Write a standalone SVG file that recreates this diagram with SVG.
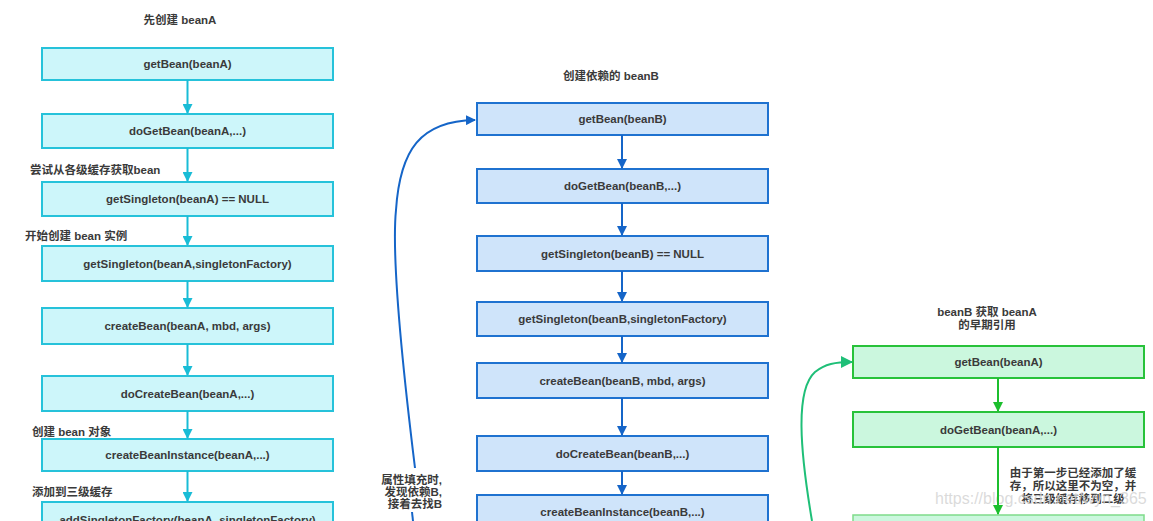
<svg xmlns="http://www.w3.org/2000/svg" width="1153" height="521" viewBox="0 0 1153 521">
<style>
text{font-family:"Liberation Sans","Noto Sans CJK SC",sans-serif;font-weight:bold;fill:#3a3a3a;}
.n{font-size:11.5px;text-anchor:middle;}
.lbl{font-size:11.5px;}
.a rect{fill:#cdf6fa;stroke:#26c2da;stroke-width:2;}
.b rect{fill:#cfe4fa;stroke:#1f72d0;stroke-width:2;}
.c rect{fill:#cbf7de;stroke:#28c23a;stroke-width:2;}
.ca{stroke:#19bcd6;stroke-width:2;fill:none;}
.cb{stroke:#1565c8;stroke-width:2;fill:none;}
.cc{stroke:#1cbf2e;stroke-width:2;fill:none;}
.cg{stroke:#1fbf78;stroke-width:2;fill:none;}
</style>
<defs>
<marker id="ma" markerWidth="10" markerHeight="10" refX="9" refY="5" orient="auto" markerUnits="userSpaceOnUse"><path d="M0,0 L10,5 L0,10 z" fill="#19bcd6"/></marker>
<marker id="mb" markerWidth="10" markerHeight="10" refX="9" refY="5" orient="auto" markerUnits="userSpaceOnUse"><path d="M0,0 L10,5 L0,10 z" fill="#1565c8"/></marker>
<marker id="mc" markerWidth="10" markerHeight="10" refX="9" refY="5" orient="auto" markerUnits="userSpaceOnUse"><path d="M0,0 L10,5 L0,10 z" fill="#1cbf2e"/></marker>
<marker id="mg" markerWidth="12" markerHeight="12" refX="11" refY="6" orient="auto" markerUnits="userSpaceOnUse"><path d="M0,0 L12,6 L0,12 z" fill="#1fbf78"/></marker>
</defs>
<rect width="1153" height="521" fill="#ffffff"/>

<!-- Titles and labels -->
<text class="n" x="180" y="24">先创建 beanA</text>
<text class="lbl" x="30" y="174">尝试从各级缓存获取bean</text>
<text class="lbl" x="25" y="240">开始创建 bean 实例</text>
<text class="lbl" x="32" y="436">创建 bean 对象</text>
<text class="lbl" x="32" y="496">添加到三级缓存</text>
<text class="n" x="611" y="80">创建依赖的 beanB</text>
<text class="lbl" text-anchor="end" x="442" y="484">属性填充时,</text>
<text class="lbl" text-anchor="end" x="442" y="496">发现依赖B,</text>
<text class="lbl" text-anchor="end" x="442" y="508">接着去找B</text>
<text class="n" x="987" y="316">beanB 获取 beanA</text>
<text class="n" x="987" y="329">的早期引用</text>
<text class="n" x="1073" y="477">由于第一步已经添加了缓</text>
<text class="n" x="1073" y="490">存，所以这里不为空，并</text>
<text class="n" x="1073" y="503">将三级缓存移到二级</text>

<!-- Column A nodes -->
<g id="a1" class="a"><rect x="42" y="48" width="291" height="32"/><text class="n" x="187.5" y="68">getBean(beanA)</text></g>
<g id="a2" class="a"><rect x="42" y="114" width="291" height="34"/><text class="n" x="187.5" y="135">doGetBean(beanA,...)</text></g>
<g id="a3" class="a"><rect x="42" y="182" width="291" height="34"/><text class="n" x="187.5" y="203">getSingleton(beanA)  == NULL</text></g>
<g id="a4" class="a"><rect x="42" y="246" width="291" height="35"/><text class="n" x="187.5" y="268">getSingleton(beanA,singletonFactory)</text></g>
<g id="a5" class="a"><rect x="42" y="308" width="291" height="36"/><text class="n" x="187.5" y="330">createBean(beanA, mbd, args)</text></g>
<g id="a6" class="a"><rect x="42" y="376" width="291" height="35"/><text class="n" x="187.5" y="398">doCreateBean(beanA,...)</text></g>
<g id="a7" class="a"><rect x="42" y="439" width="291" height="32"/><text class="n" x="187.5" y="459">createBeanInstance(beanA,...)</text></g>
<g id="a8" class="a"><rect x="42" y="502" width="291" height="36"/><text class="n" x="187.5" y="524">addSingletonFactory(beanA, singletonFactory)</text></g>

<!-- Column B nodes -->
<g id="b1" class="b"><rect x="477" y="103" width="291" height="32"/><text class="n" x="622.5" y="123">getBean(beanB)</text></g>
<g id="b2" class="b"><rect x="477" y="169" width="291" height="34"/><text class="n" x="622.5" y="190">doGetBean(beanB,...)</text></g>
<g id="b3" class="b"><rect x="477" y="236" width="291" height="35"/><text class="n" x="622.5" y="258">getSingleton(beanB)  == NULL</text></g>
<g id="b4" class="b"><rect x="477" y="302" width="291" height="34"/><text class="n" x="622.5" y="323">getSingleton(beanB,singletonFactory)</text></g>
<g id="b5" class="b"><rect x="477" y="363" width="291" height="35"/><text class="n" x="622.5" y="385">createBean(beanB, mbd, args)</text></g>
<g id="b6" class="b"><rect x="477" y="436" width="291" height="35"/><text class="n" x="622.5" y="458">doCreateBean(beanB,...)</text></g>
<g id="b7" class="b"><rect x="477" y="495" width="291" height="40"/><text class="n" x="622.5" y="516">createBeanInstance(beanB,...)</text></g>

<!-- Column C nodes -->
<g id="c1" class="c"><rect x="853" y="346" width="291" height="32"/><text class="n" x="998.5" y="366">getBean(beanA)</text></g>
<g id="c2" class="c"><rect x="853" y="412" width="291" height="35"/><text class="n" x="998.5" y="434">doGetBean(beanA,...)</text></g>
<g id="c3" class="c"><rect x="853" y="515" width="291" height="40" style="stroke:#7fdc8a;stroke-width:1.5"/></g>

<!-- Watermark -->
<text x="935" y="504" style="font-size:16px;font-weight:normal;fill:#d4d4d4;fill-opacity:0.85">https://blog.csdn.net/wyn_365</text>

<!-- Connectors -->
<g id="connectors">
<line class="ca" x1="187.5" y1="80" x2="187.5" y2="113" marker-end="url(#ma)"/>
<line class="ca" x1="187.5" y1="148" x2="187.5" y2="181" marker-end="url(#ma)"/>
<line class="ca" x1="187.5" y1="216" x2="187.5" y2="245" marker-end="url(#ma)"/>
<line class="ca" x1="187.5" y1="281" x2="187.5" y2="307" marker-end="url(#ma)"/>
<line class="ca" x1="187.5" y1="344" x2="187.5" y2="375" marker-end="url(#ma)"/>
<line class="ca" x1="187.5" y1="411" x2="187.5" y2="438" marker-end="url(#ma)"/>
<line class="ca" x1="187.5" y1="471" x2="187.5" y2="501" marker-end="url(#ma)"/>

<line class="cb" x1="622" y1="135" x2="622" y2="168" marker-end="url(#mb)"/>
<line class="cb" x1="622" y1="203" x2="622" y2="235" marker-end="url(#mb)"/>
<line class="cb" x1="622" y1="271" x2="622" y2="301" marker-end="url(#mb)"/>
<line class="cb" x1="622" y1="336" x2="622" y2="362" marker-end="url(#mb)"/>
<line class="cb" x1="622" y1="398" x2="622" y2="435" marker-end="url(#mb)"/>
<line class="cb" x1="622" y1="471" x2="622" y2="494" marker-end="url(#mb)"/>
<path class="cb" d="M415,468 C398,330 392,250 396,210 C400,150 420,121 475,120" marker-end="url(#mb)"/>
<path class="cb" d="M412,512 L413,521"/>

<line class="cc" x1="998" y1="378" x2="998" y2="411" marker-end="url(#mc)"/>
<line class="cc" x1="998" y1="447" x2="998" y2="514" marker-end="url(#mc)"/>
<path class="cg" d="M812,521 C800,450 795,390 815,372 C825,364 835,362 852,362" marker-end="url(#mg)"/>
</g>
</svg>
